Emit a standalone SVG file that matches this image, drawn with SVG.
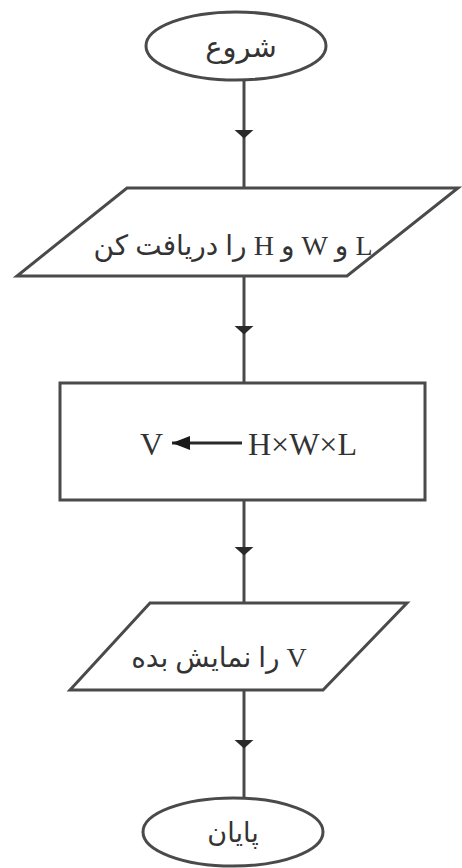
<svg xmlns="http://www.w3.org/2000/svg" width="462" height="868" viewBox="0 0 462 868">
<defs>
<style>
.shape{fill:#fff;stroke:#4a4a4a;stroke-width:3}
.conn{fill:none;stroke:#4a4a4a;stroke-width:3}
.fa{font-family:"Liberation Serif","DejaVu Sans",serif;fill:#333;text-anchor:middle;direction:rtl;unicode-bidi:embed}
.la{font-family:"Liberation Serif",serif;fill:#333;font-size:32px}
</style>
<marker id="ah" viewBox="0 0 9 20" refX="4.5" refY="10" markerWidth="9" markerHeight="20" markerUnits="userSpaceOnUse" orient="auto">
<path d="M0,0 L9,10 L0,20 Z" fill="#2a2a2a"/>
</marker>
<marker id="ah2" viewBox="0 0 18 14" refX="0" refY="7" markerWidth="18" markerHeight="14" markerUnits="userSpaceOnUse" orient="auto">
<path d="M18,0 L0,7 L18,14 Z" fill="#1a1a1a"/>
</marker>
</defs>
<rect width="462" height="868" fill="#fff"/>
<g id="connectors">
<path class="conn" d="M244,80 L244,134 L244,188" marker-mid="url(#ah)"/>
<path class="conn" d="M244,276 L244,330 L244,383" marker-mid="url(#ah)"/>
<path class="conn" d="M244,500 L244,551 L244,603" marker-mid="url(#ah)"/>
<path class="conn" d="M244,690 L244,744 L244,798" marker-mid="url(#ah)"/>
</g>
<g id="start">
<ellipse class="shape" cx="236" cy="46" rx="90" ry="34"/>
<text class="fa" x="241" y="57" font-size="29">شروع</text>
</g>
<g id="input">
<polygon class="shape" points="127,188 458,188 347,276 17,276"/>
<text class="fa" x="233" y="255" font-size="28">L و W و H را دریافت کن</text>
</g>
<g id="process">
<rect class="shape" x="60" y="383" width="365" height="117"/>
<text class="la" x="140" y="455">V</text>
<line x1="172" y1="443" x2="242" y2="443" stroke="#2a2a2a" stroke-width="3" marker-start="url(#ah2)"/>
<text class="la" x="248" y="455">H×W×L</text>
</g>
<g id="output">
<polygon class="shape" points="150,603 407,603 323,690 70,690"/>
<text class="fa" x="219" y="667" font-size="28">V را نمایش بده</text>
</g>
<g id="end">
<ellipse class="shape" cx="233" cy="832" rx="90" ry="34"/>
<text class="fa" x="233" y="842" font-size="27">پایان</text>
</g>
</svg>
